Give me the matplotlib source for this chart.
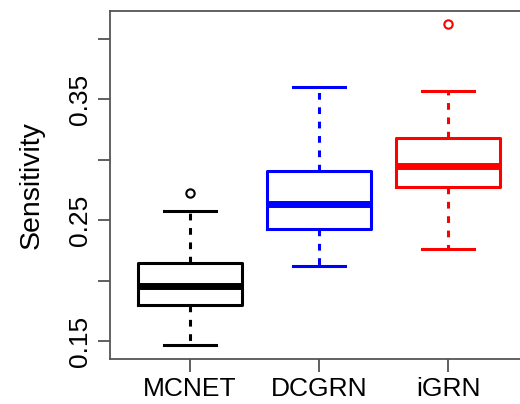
import matplotlib
matplotlib.use('Agg')
import matplotlib.pyplot as plt

plt.rcParams['font.family'] = ['Liberation Sans', 'DejaVu Sans']

methods = ['MCNET', 'DCGRN', 'iGRN']
colors = ['black', 'blue', 'red']
# five-number summaries
whislo = [0.1464, 0.2118, 0.2262]
q1 = [0.1796, 0.2430, 0.2773]
med = [0.1958, 0.2634, 0.2951]
q3 = [0.2143, 0.2910, 0.3183]
whishi = [0.2576, 0.3606, 0.3573]
fliers = [[0.2728], [], [0.4122]]

fig = plt.figure(figsize=(5.2, 4.04), dpi=100)
ax = fig.add_axes([110 / 520, 1 - 359 / 404, 418 / 520, 348 / 404])

for i in range(3):
    st = [dict(whislo=whislo[i], q1=q1[i], med=med[i], q3=q3[i],
               whishi=whishi[i], fliers=fliers[i])]
    c = colors[i]
    ax.bxp(st, positions=[i + 1], widths=0.8, showfliers=True,
           boxprops=dict(color=c, linewidth=2.2),
           medianprops=dict(color=c, linewidth=5, solid_capstyle='butt'),
           whiskerprops=dict(color=c, linewidth=2.2, linestyle=(0, (2.2, 2.5))),
           capprops=dict(color=c, linewidth=2.2),
           capwidths=0.4,
           flierprops=dict(marker='o', markerfacecolor='none', markeredgecolor=c,
                           markersize=6, markeredgewidth=1.5))

ax.set_xlim(0.38, 3.62)
ax.set_ylim(0.1351, 0.4232)
ax.set_xticks([1, 2, 3])
ax.set_xticklabels(methods, fontsize=19)
ax.set_yticks([0.15, 0.20, 0.25, 0.30, 0.35, 0.40])
ax.set_yticklabels(['0.15', '', '0.25', '', '0.35', ''], fontsize=19,
                   rotation=90, va='center')
ax.tick_params(axis='both', length=9, width=1.2, color='#444444', pad=4)
ax.set_ylabel('Sensitivity', fontsize=20.5, labelpad=17)
for s in ax.spines.values():
    s.set_color('#555555')
    s.set_linewidth(1.3)

fig.savefig('out.png', dpi=100)
